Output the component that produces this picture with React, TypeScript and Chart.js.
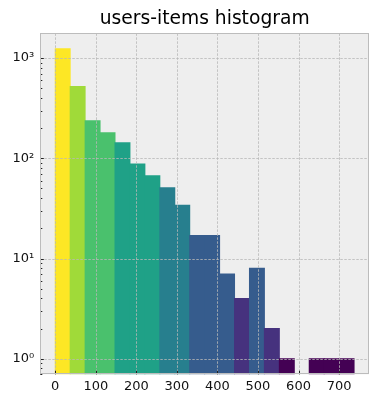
import React, { useEffect, useRef } from 'react';
import { Chart, registerables } from 'chart.js';

Chart.register(...registerables);

// ---- data ----
const chartTitle = 'users-items histogram';
const binEdges = [0, 36.85, 73.7, 110.55, 147.4, 184.25, 221.1, 257.95, 294.8, 331.65, 368.5, 405.35, 442.2, 479.05, 515.9, 552.75, 589.6, 626.45, 663.3, 700.15, 737];
const counts: (number | null)[] = [1237, 521, 237, 180, 143, 88, 67, 51, 34, 17, 17, 7, 4, 8, 2, 1, null, 1, 1, 1];
const barColors = [
  '#fde725', '#a0da39', '#4ac16d', '#4ac16d', '#1fa187', '#1fa187', '#1fa187', '#277f8e', '#277f8e',
  '#365c8d', '#365c8d', '#365c8d', '#46327e', '#365c8d', '#46327e', '#440154', '#440154', '#440154', '#440154', '#440154',
];
const xTickValues = [0, 100, 200, 300, 400, 500, 600, 700];
const yMajorTicks = [1, 10, 100, 1000];
const xRange = [-36.85, 773.85];
const yRange = [0.7, 1766];

const SUP: Record<string, string> = { '0': '⁰', '1': '¹', '2': '²', '3': '³', '4': '⁴', '-': '⁻' };
const supLabel = (v: number) => '10' + String(Math.round(Math.log10(v))).split('').map((c) => SUP[c] || c).join('');

const bmhPlugin = {
  id: 'bmh',
  beforeDraw(chart: any) {
    const { ctx, chartArea: a } = chart;
    ctx.save();
    ctx.fillStyle = '#eeeeee';
    ctx.fillRect(a.left, a.top, a.right - a.left, a.bottom - a.top);
    ctx.restore();
  },
  afterDatasetsDraw(chart: any) {
    const { ctx, chartArea: a, scales } = chart;
    const xs = scales.x;
    const ys = scales.y;
    ctx.save();
    // grid
    ctx.strokeStyle = '#b8b8b8';
    ctx.lineWidth = 0.8;
    ctx.setLineDash([2.5, 1.5]);
    ctx.beginPath();
    xTickValues.forEach((v) => {
      const px = Math.round(xs.getPixelForValue(v)) + 0.5;
      ctx.moveTo(px, a.top);
      ctx.lineTo(px, a.bottom);
    });
    yMajorTicks.forEach((v) => {
      const py = Math.round(ys.getPixelForValue(v)) + 0.5;
      ctx.moveTo(a.left, py);
      ctx.lineTo(a.right, py);
    });
    ctx.stroke();
    ctx.setLineDash([]);
    // tick marks (inside)
    ctx.strokeStyle = '#222222';
    ctx.lineWidth = 1;
    ctx.beginPath();
    xTickValues.forEach((v) => {
      const px = Math.round(xs.getPixelForValue(v)) + 0.5;
      ctx.moveTo(px, a.bottom);
      ctx.lineTo(px, a.bottom - 3.5);
    });
    for (let e = -1; e <= 3; e++) {
      for (let m = 1; m <= 9; m++) {
        const v = m * Math.pow(10, e);
        if (v < yRange[0] || v > yRange[1]) continue;
        const py = Math.round(ys.getPixelForValue(v)) + 0.5;
        ctx.moveTo(a.left, py);
        ctx.lineTo(a.left + (m === 1 ? 3.5 : 2), py);
      }
    }
    ctx.stroke();
    // spines
    ctx.strokeStyle = '#bcbcbc';
    ctx.lineWidth = 1;
    ctx.strokeRect(Math.round(a.left) + 0.5, Math.round(a.top) + 0.5, Math.round(a.right - a.left) - 1, Math.round(a.bottom - a.top) - 1);
    ctx.restore();
  },
};

export default function App() {
  const ref = useRef<HTMLCanvasElement | null>(null);
  useEffect(() => {
    if (!ref.current) return;
    Chart.defaults.font.family = "'DejaVu Sans', sans-serif";
    Chart.defaults.color = '#111111';
    const data = counts.map((c, i) => ({ x: (binEdges[i] + binEdges[i + 1]) / 2, y: c }));
    const chart = new Chart(ref.current, {
      type: 'bar',
      data: {
        datasets: [
          {
            data: data as any,
            backgroundColor: barColors,
            borderWidth: 0,
            inflateAmount: 0.5,
            barPercentage: 1,
            categoryPercentage: 1,
          } as any,
        ],
      },
      options: {
        responsive: false,
        animation: false,
        devicePixelRatio: 1,
        layout: { padding: { left: 0, right: 12, top: 0, bottom: 0 } },
        plugins: {
          legend: { display: false },
          tooltip: { enabled: false },
          title: {
            display: true,
            text: chartTitle,
            fullSize: false,
            color: '#000000',
            font: { size: 18.7, weight: 'normal' as any, family: "'DejaVu Sans', sans-serif" },
            padding: { top: 8, bottom: 2.9 },
          },
        },
        scales: {
          x: {
            type: 'linear',
            offset: false,
            min: xRange[0],
            max: xRange[1],
            grid: { display: false, drawTicks: false, offset: false },
            border: { display: false },
            afterBuildTicks: (s: any) => {
              s.ticks = xTickValues.map((v) => ({ value: v }));
            },
            afterFit: (s: any) => {
              s.height = 24.7;
            },
            ticks: {
              autoSkip: false,
              maxRotation: 0,
              padding: 5,
              color: '#111111',
              font: { size: 13 },
              callback: (v: any) => String(v),
            },
          },
          y: {
            type: 'logarithmic',
            min: yRange[0],
            max: yRange[1],
            grid: { display: false, drawTicks: false },
            border: { display: false },
            afterBuildTicks: (s: any) => {
              s.ticks = yMajorTicks.map((v) => ({ value: v }));
            },
            afterFit: (s: any) => {
              s.width = 40.3;
            },
            ticks: {
              autoSkip: false,
              padding: 6,
              color: '#111111',
              font: { size: 13 },
              callback: (v: any) => supLabel(Number(v)),
            },
          },
        },
      },
      plugins: [bmhPlugin],
    });
    return () => chart.destroy();
  }, []);
  return (
    <div style={{ position: 'fixed', left: 0, top: 0, width: 381, height: 399, background: '#ffffff' }}>
      <canvas ref={ref} width={381} height={399} style={{ display: 'block' }} />
    </div>
  );
}
